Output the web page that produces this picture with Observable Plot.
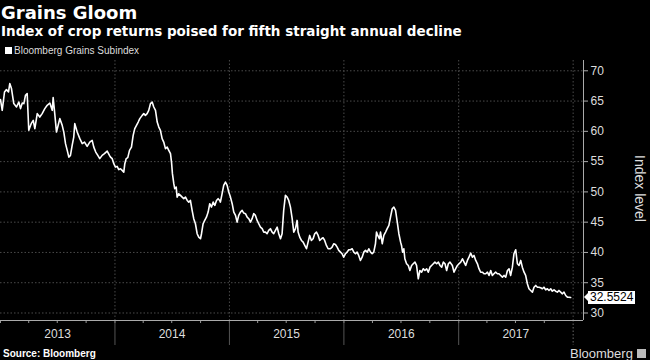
<!DOCTYPE html>
<html><head><meta charset="utf-8">
<script src="https://cdn.jsdelivr.net/npm/d3@7"></script>
<script src="https://cdn.jsdelivr.net/npm/@observablehq/plot@0.6"></script>
<style>
html,body{margin:0;padding:0;background:#000;}
#root{position:relative;width:650px;height:360px;overflow:hidden;background:#000;font-family:"Liberation Sans",Arial,sans-serif;color:#fff;}
#head{position:relative;height:60px;}
#title{position:absolute;left:1px;top:2px;font:bold 18px "DejaVu Sans";line-height:22px;color:#fff;white-space:nowrap;}
#subtitle{position:absolute;left:1px;top:23px;font:bold 13.5px "DejaVu Sans";line-height:16px;color:#fff;white-space:nowrap;}
#legend{position:absolute;left:5px;top:45px;font-size:10px;line-height:12px;color:#ddd;white-space:nowrap;}
#legend .sw{display:inline-block;width:7px;height:7px;background:#fff;margin-right:2px;vertical-align:0px;}
#chart svg{display:block}
#foot{position:relative;height:15px;}
#source{position:absolute;left:3px;top:3px;font:bold 10px "Liberation Sans";line-height:12px;color:#fff;white-space:nowrap;}
#brand{position:absolute;left:570px;top:2px;font-size:13px;line-height:14px;color:#ddd;white-space:nowrap;}
#brand .ic{display:inline-block;width:9px;height:9px;background:#bbb;margin-left:4px;vertical-align:0;}
#ylabel{position:absolute;left:632px;top:155px;writing-mode:vertical-rl;font-size:14px;line-height:16px;color:#ddd;white-space:nowrap;}
#lastval{position:absolute;left:588px;height:13px;line-height:13px;padding:0 2px;background:#fff;color:#000;font-size:12px;}
#lastval:before{content:"";position:absolute;left:-4px;top:2px;border-top:4.5px solid transparent;border-bottom:4.5px solid transparent;border-right:4px solid #fff;}
</style>
</head><body>
<div id="root">
  <div id="head">
    <div id="title">Grains Gloom</div>
    <div id="subtitle">Index of crop returns poised for fifth straight annual decline</div>
    <div id="legend"><span class="sw"></span>Bloomberg Grains Subindex</div>
  </div>
  <div id="chart"></div>
  <div id="foot">
    <div id="source">Source: Bloomberg</div>
    <div id="brand">Bloomberg<span class="ic"></span></div>
  </div>
  <div id="ylabel">Index level</div>
  <div id="lastval"></div>
</div>
<script>
// [fraction of year, index level]
const s2013 = [[.000,65.24],[.015,63.47],[.035,66.50],[.052,66.89],[.070,66.50],[.081,67.88],[.096,67.06],[.116,64.58],[.140,64.02],[.160,64.84],[.175,63.75],[.190,64.68],[.204,64.58],[.218,65.95],[.233,66.23],[.247,60.17],[.268,61.27],[.286,61.82],[.300,60.45],[.321,62.93],[.343,62.36],[.364,62.93],[.387,63.75],[.408,64.30],[.431,64.68],[.452,63.47],[.460,65.57],[.474,62.93],[.489,59.88],[.500,60.71],[.518,62.10],[.539,60.99],[.553,59.88],[.568,57.97],[.583,56.86],[.597,55.75],[.611,56.03],[.626,57.69],[.640,59.06],[.649,61.27],[.670,59.88],[.693,58.79],[.714,57.97],[.734,58.23],[.757,57.52],[.780,58.23],[.801,58.51],[.815,57.40],[.832,56.58],[.850,56.03],[.867,55.49],[.888,56.03],[.908,56.31],[.932,56.74],[.952,56.03],[.961,55.75],[.976,55.49],[.990,54.66]];
const s2014 = [[.004,54.10],[.019,54.21],[.033,53.67],[.048,53.83],[.063,53.55],[.077,53.27],[.086,54.66],[.098,55.49],[.112,55.65],[.127,56.86],[.144,57.40],[.159,59.34],[.173,60.45],[.188,60.99],[.203,61.54],[.217,62.10],[.238,62.64],[.252,62.93],[.266,62.64],[.281,62.93],[.295,63.47],[.310,64.58],[.325,64.84],[.339,64.02],[.354,63.47],[.369,61.54],[.383,60.71],[.397,60.17],[.412,58.79],[.426,58.23],[.441,57.14],[.456,57.40],[.470,56.86],[.485,56.31],[.494,54.93],[.502,53.01],[.514,51.36],[.522,50.53],[.535,50.79],[.543,49.14],[.557,49.70],[.572,49.42],[.587,49.14],[.601,48.88],[.616,49.14],[.631,48.59],[.645,48.31],[.659,48.59],[.674,46.94],[.688,45.57],[.703,44.74],[.718,43.09],[.732,42.53],[.747,42.26],[.756,43.09],[.770,44.74],[.784,45.29],[.799,45.83],[.814,46.66],[.828,48.05],[.843,47.49],[.858,48.31],[.872,47.77],[.887,48.59],[.901,48.88],[.915,48.59],[.921,48.31],[.936,49.70],[.950,51.07],[.965,51.62],[.980,51.07],[.994,49.97]];
const s2015 = [[.009,49.14],[.024,48.05],[.038,46.66],[.053,46.12],[.067,45.01],[.081,46.12],[.096,46.66],[.111,46.94],[.125,46.50],[.140,46.40],[.155,45.83],[.169,45.57],[.184,45.01],[.198,45.57],[.212,46.40],[.227,46.12],[.242,45.29],[.256,44.74],[.271,44.18],[.286,43.92],[.300,43.36],[.315,43.36],[.329,43.09],[.343,43.64],[.358,43.92],[.373,43.36],[.387,43.09],[.402,43.64],[.417,44.18],[.431,43.09],[.446,42.26],[.460,43.09],[.474,46.94],[.489,49.42],[.504,49.14],[.518,48.59],[.533,47.49],[.548,45.57],[.562,43.36],[.577,43.92],[.591,45.29],[.600,43.36],[.614,42.53],[.629,41.98],[.644,41.70],[.658,41.16],[.673,40.61],[.687,41.70],[.701,42.81],[.716,41.98],[.731,42.26],[.745,43.09],[.760,43.36],[.775,42.81],[.789,41.98],[.804,42.26],[.818,42.43],[.832,41.98],[.847,41.16],[.862,40.61],[.882,40.61],[.897,40.88],[.911,41.44],[.926,41.32],[.941,40.88],[.955,40.33],[.970,40.05],[.984,39.78],[.998,39.22]];
const s2016 = [[.013,39.78],[.028,40.05],[.042,40.45],[.057,40.45],[.072,40.61],[.086,40.05],[.101,39.78],[.115,40.05],[.129,39.50],[.144,38.68],[.159,39.22],[.173,40.05],[.188,40.33],[.203,40.05],[.217,40.61],[.232,40.05],[.246,39.78],[.260,40.05],[.275,41.44],[.284,43.36],[.295,42.81],[.310,42.26],[.319,43.36],[.334,41.44],[.348,42.81],[.363,43.36],[.377,43.92],[.392,44.46],[.406,45.83],[.421,47.22],[.435,47.49],[.450,46.94],[.465,45.01],[.479,43.09],[.494,41.70],[.502,41.16],[.511,40.05],[.522,40.61],[.531,38.96],[.546,38.13],[.561,37.85],[.575,37.02],[.590,37.85],[.604,38.13],[.619,38.40],[.633,37.85],[.648,35.65],[.662,37.02],[.677,36.74],[.692,37.31],[.706,37.02],[.721,37.31],[.735,36.74],[.750,37.57],[.764,37.85],[.779,38.13],[.793,38.40],[.808,38.13],[.823,38.40],[.837,37.85],[.852,37.57],[.866,38.40],[.881,38.13],[.895,37.02],[.910,38.13],[.924,38.40],[.945,37.85],[.959,36.74],[.974,37.31],[.989,37.85]];
const s2017 = [[.003,38.13],[.018,38.40],[.033,38.96],[.047,38.40],[.061,37.85],[.076,38.68],[.090,39.22],[.105,39.88],[.120,39.22],[.134,39.50],[.149,38.68],[.164,38.13],[.177,37.31],[.192,36.74],[.207,36.74],[.221,36.48],[.236,36.48],[.251,36.74],[.265,36.20],[.280,37.02],[.294,36.20],[.308,36.48],[.323,36.74],[.338,36.48],[.352,36.48],[.367,36.20],[.382,35.92],[.396,36.20],[.411,35.92],[.426,37.02],[.440,37.31],[.454,36.20],[.469,37.57],[.483,39.78],[.498,40.45],[.513,38.13],[.527,37.85],[.542,38.68],[.556,37.57],[.571,36.74],[.585,36.20],[.600,34.83],[.614,34.00],[.629,33.72],[.644,33.44],[.658,34.26],[.673,34.55],[.688,34.26],[.702,34.26],[.716,34.17],[.731,34.00],[.745,34.26],[.760,33.83],[.775,34.00],[.789,33.72],[.804,34.00],[.818,33.60],[.833,33.83],[.847,33.60],[.862,33.44],[.876,33.72],[.891,33.44],[.906,33.17],[.920,33.44],[.935,32.89],[.950,32.61],[.964,32.61],[.978,32.5524]];

const years = [2013, 2014, 2015, 2016, 2017];
const yTicks = [30, 35, 40, 45, 50, 55, 60, 65, 70];
const yDomain = [28.76, 71.7];
const xStart = "2013-01-01";
const xEnd = "2018-02-03";
const seriesName = "Bloomberg Grains Subindex";

const series = [s2013, s2014, s2015, s2016, s2017];
const toDate = (yr, f) => {
  const a = Date.UTC(yr, 0, 1), b = Date.UTC(yr + 1, 0, 1);
  return new Date(a + f * (b - a));
};
const data = series.flatMap((s, i) => s.map(([f, v]) => ({date: toDate(years[i], f), value: v})));
const xDomain = [new Date(xStart), new Date(xEnd)];
const boundaries = years.slice(1).map(y => new Date(Date.UTC(y, 0, 1)));
const endBoundary = [new Date(Date.UTC(years[years.length - 1] + 1, 0, 1))];
const midYears = years.map(y => new Date(Date.UTC(y, 6, 2)));
const quarters = d3.utcMonth.every(3).range(new Date(Date.UTC(years[0], 0, 1)), endBoundary[0]);

const gridColor = "#4a4a4a";
const chart = Plot.plot({
  width: 650, height: 285,
  marginTop: 0, marginBottom: 25, marginLeft: 0, marginRight: 67,
  style: {background: "#000", color: "#ddd", fontFamily: "Liberation Sans, Arial, sans-serif", fontSize: "12px", overflow: "visible"},
  x: {type: "utc", domain: xDomain, axis: null, label: null},
  y: {domain: yDomain, axis: null, label: null},
  marks: [
    Plot.gridY(yTicks, {stroke: gridColor, strokeOpacity: 1, strokeDasharray: "1.5,2"}),
    Plot.ruleX(boundaries.concat(endBoundary), {stroke: gridColor, strokeDasharray: "1.5,2"}),
    Plot.axisX(quarters, {anchor: "bottom", tickSize: 3, tickFormat: () => "", stroke: "#999", label: null}),
    Plot.axisX(boundaries, {anchor: "bottom", tickSize: 25, tickFormat: () => "", stroke: "#555", label: null}),
    Plot.axisX(endBoundary, {anchor: "bottom", tickSize: 25, tickFormat: () => "", stroke: "#666", strokeDasharray: "1.5,2", label: null}),
    Plot.axisX(midYears, {anchor: "bottom", tickSize: 0, tickPadding: 9, tickFormat: d => String(d.getUTCFullYear()), fill: "#ddd", fontSize: 12, label: null}),
    Plot.axisY(yTicks, {anchor: "right", tickSize: 4, tickPadding: 3, stroke: "#aaa", fill: "#ddd", fontSize: 12, label: null}),
    Plot.ruleY([yDomain[0]], {stroke: "#aaa"}),
    Plot.ruleX([xDomain[1]], {stroke: "#aaa"}),
    Plot.lineY(data, {x: "date", y: "value", stroke: "#fff", strokeWidth: 1.6})
  ]
});
document.getElementById("chart").appendChild(chart);

const last = data[data.length - 1];
const lv = document.getElementById("lastval");
lv.textContent = last.value.toFixed(4);
const svgTop = document.getElementById("head").offsetHeight;
lv.style.top = (svgTop + chart.scale("y").apply(last.value) - 6.5) + "px";
</script>
</body></html>
